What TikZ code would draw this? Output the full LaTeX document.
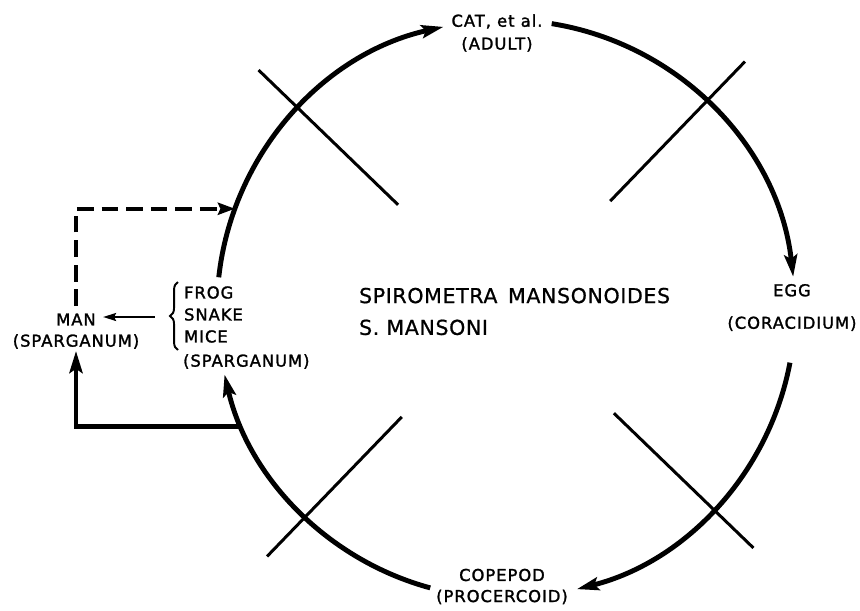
\documentclass[tikz,border=0pt]{standalone}
\usepackage{fontspec}
\setmainfont{DejaVu Sans}
\newfontfamily\letterfont{DejaVu Sans}[LetterSpace=6, FakeBold=1.6]
\newfontfamily\titlefont{DejaVu Sans}[LetterSpace=3, FakeBold=0.8]
\usetikzlibrary{arrows.meta, decorations.pathreplacing}

\begin{document}
\begin{tikzpicture}[
  stage/.style={font=\letterfont\fontsize{9.3}{12.5}\selectfont, align=center, inner sep=1pt},
  cycle/.style={line width=2.8pt, -{Stealth[length=4.4mm, width=2.6mm, inset=0.8mm]}},
  crossline/.style={line width=1.7pt},
  feed/.style={line width=1.1pt, -{Stealth[length=2.6mm, width=1.6mm, inset=0.4mm]}},
  infect/.style={line width=2.2pt, dash pattern=on 9.5pt off 4.5pt, -{Stealth[length=3.4mm, width=2.4mm, inset=0.5mm]}},
  hostbrace/.style={line width=1.1pt, decorate, decoration={brace, amplitude=4.5pt}}
]
  \useasboundingbox (-10.12,-6.02) rectangle (7.08,6.18);
  \def\R{5.78}

  % points on the life cycle circle
  \coordinate (c1s) at (173.7:\R);
  \coordinate (c1e) at (102.5:\R);
  \coordinate (c2s) at (80.9:\R);
  \coordinate (c2e) at (6.4:\R);
  \coordinate (c3s) at (-10.7:\R);
  \coordinate (c3e) at (-75.8:\R);
  \coordinate (c4s) at (254.8:\R);
  \coordinate (c4e) at (193.1:\R);
  \coordinate (hit1) at (159.7:\R);
  \coordinate (hit2) at (204:\R);

  \node[stage, font=\letterfont\fontsize{9.3}{13}\selectfont] (cat) at (-0.18, 5.52) {CAT, et al.\\(ADULT)};
  \node[stage] (egg) at (5.72, 0.03) {EGG\\[6pt](CORACIDIUM)};
  \node[stage, font=\letterfont\fontsize{9.3}{12}\selectfont] (copepod) at (-0.08, -5.55) {COPEPOD\\(PROCERCOID)};
  \node[stage, align=left, anchor=west] (hosts) at (-6.48, -0.11) {FROG\\SNAKE\\MICE};
  \node[stage, anchor=west] (hoststage) at (-6.50, -1.05) {(SPARGANUM)};
  \node[stage, inner sep=4pt] (man) at (-8.6, -0.21) {MAN};
  \node[stage] (manstage) at (-8.6, -0.65) {(SPARGANUM)};
  \node[font=\titlefont\fontsize{11.7}{18.1}\selectfont, align=left, anchor=west, inner sep=1pt] (title) at (-2.98, -0.05)
    {SPIROMETRA\ \,MANSONOIDES\\S. MANSONI};

  \draw[cycle] (c1s) arc[start angle=173.7, end angle=102.5, radius=\R];
  \draw[cycle] (c2s) arc[start angle=80.9, end angle=6.4, radius=\R];
  \draw[cycle] (c3s) arc[start angle=-10.7, end angle=-75.8, radius=\R];
  \draw[cycle] (c4s) arc[start angle=254.8, end angle=193.1, radius=\R];

  \foreach \a in {46,136,226,316}
    \draw[crossline] (\a:3.0) -- (\a:6.88);

  \coordinate (bracetop) at (-6.56, 0.54);
  \coordinate (bracebot) at (-6.56, -0.82);
  \coordinate (braceout) at (-7.02, -0.16);
  \draw[hostbrace] (bracebot) -- (bracetop);
  \draw[feed] (braceout) -- (braceout -| man.east);
  \draw[infect] (man.north) |- (hit1);
  \draw[cycle] (hit2) -| (manstage.south);
\end{tikzpicture}
\end{document}
